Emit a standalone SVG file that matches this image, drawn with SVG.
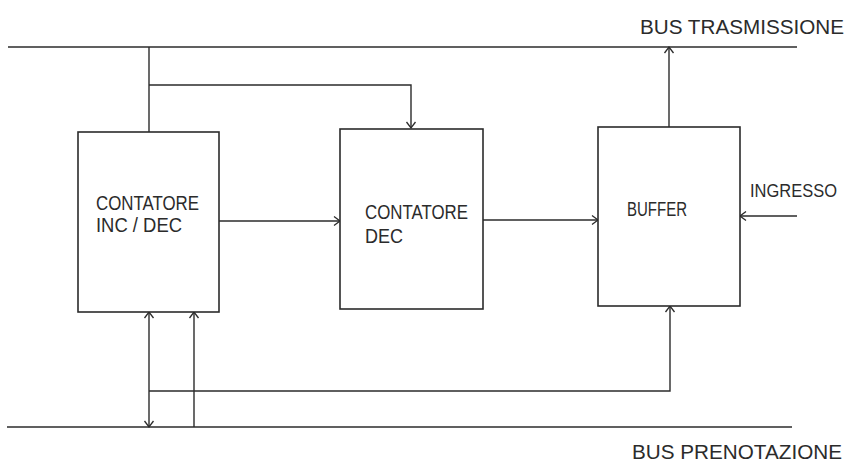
<svg xmlns="http://www.w3.org/2000/svg" width="851" height="464" viewBox="0 0 851 464">
<style>
.ln{fill:none;stroke:#2b2b2b;stroke-width:1.4}
.box{fill:#fff;stroke:#2b2b2b;stroke-width:1.6}
.t{font-family:"Liberation Sans",Arial,sans-serif;font-size:20px;fill:#2b2b2b}
.s{font-size:18px}
</style>
<defs>
<marker id="ah" markerUnits="userSpaceOnUse" markerWidth="12" markerHeight="12" refX="7" refY="6" orient="auto-start-reverse" viewBox="0 0 12 12">
<polyline points="1,1.5 7,6 1,10.5" fill="none" stroke="#2b2b2b" stroke-width="1.3"/>
</marker>
</defs>
<rect width="851" height="464" fill="#fff"/>
<g id="connectors">
<line class="ln" x1="8" y1="47" x2="797" y2="47"/>
<line class="ln" x1="7" y1="427" x2="792" y2="427"/>
<line class="ln" x1="149" y1="47" x2="149" y2="132"/>
<path class="ln" d="M149,85 H411 V128" marker-end="url(#ah)"/>
<path class="ln" d="M219,221 H340" marker-end="url(#ah)"/>
<path class="ln" d="M483,220 H598" marker-end="url(#ah)"/>
<path class="ln" d="M669,127 V47" marker-end="url(#ah)"/>
<path class="ln" d="M797,216 H740" marker-end="url(#ah)"/>
<path class="ln" d="M149,312 V427" marker-start="url(#ah)" marker-end="url(#ah)"/>
<path class="ln" d="M194,427 V312" marker-end="url(#ah)"/>
<path class="ln" d="M149,391 H670 V306" marker-end="url(#ah)"/>
</g>
<g id="bus-trasmissione">
<text class="t" x="640" y="34" textLength="204" lengthAdjust="spacingAndGlyphs">BUS TRASMISSIONE</text>
</g>
<g id="bus-prenotazione">
<text class="t" x="632" y="459" textLength="210" lengthAdjust="spacingAndGlyphs">BUS PRENOTAZIONE</text>
</g>
<g id="contatore-incdec">
<rect class="box" x="78" y="132" width="141" height="180"/>
<text class="t" x="96" y="210" textLength="103" lengthAdjust="spacingAndGlyphs">CONTATORE</text>
<text class="t" x="96" y="232" textLength="86" lengthAdjust="spacingAndGlyphs">INC / DEC</text>
</g>
<g id="contatore-dec">
<rect class="box" x="340" y="129" width="143" height="180"/>
<text class="t" x="365" y="219" textLength="103" lengthAdjust="spacingAndGlyphs">CONTATORE</text>
<text class="t" x="365" y="243" textLength="38" lengthAdjust="spacingAndGlyphs">DEC</text>
</g>
<g id="buffer">
<rect class="box" x="598" y="127" width="142" height="179"/>
<text class="t" x="627" y="216" textLength="60" lengthAdjust="spacingAndGlyphs">BUFFER</text>
</g>
<g id="ingresso">
<text class="t s" x="750" y="197" textLength="87" lengthAdjust="spacingAndGlyphs">INGRESSO</text>
</g>
</svg>
